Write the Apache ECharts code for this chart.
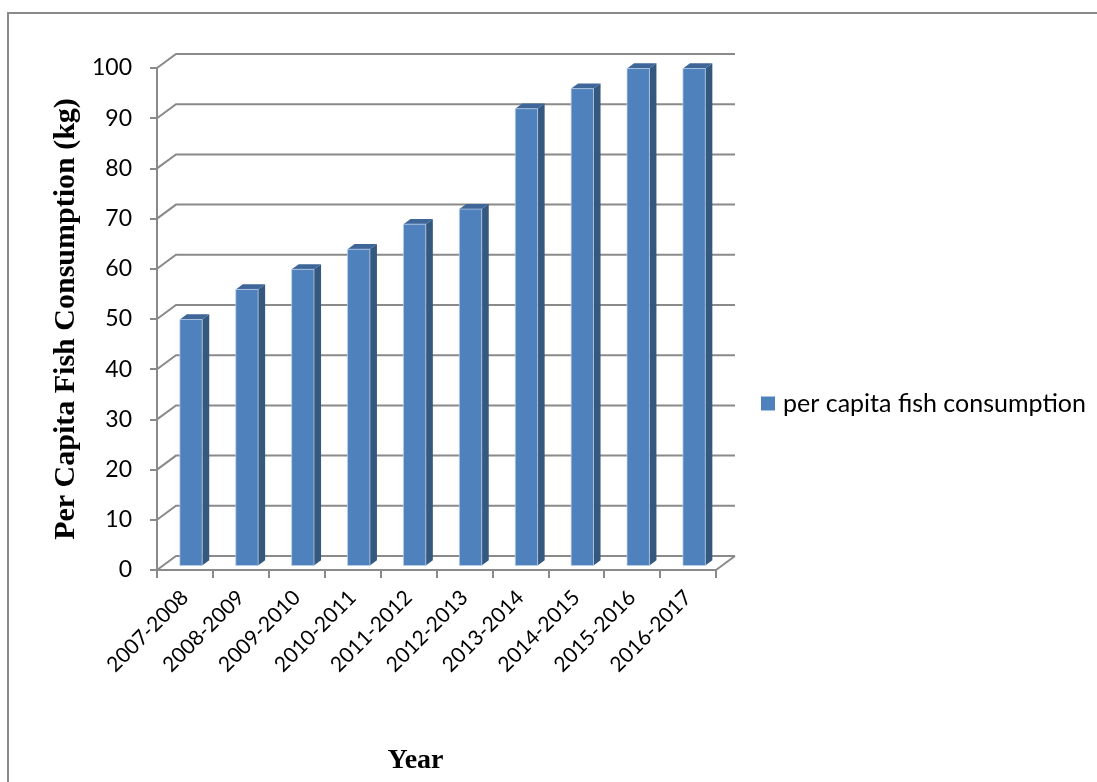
<!DOCTYPE html>
<html>
<head>
<meta charset="utf-8">
<script src="https://cdn.jsdelivr.net/npm/echarts@6/dist/echarts.min.js"></script>
<style>
  html, body { margin: 0; padding: 0; background: #fff; }
  #chart { width: 1097px; height: 782px; }
</style>
</head>
<body>
<div id="chart"></div>
<script>
// Per capita fish consumption by fiscal year
const years = ['2007-2008', '2008-2009', '2009-2010', '2010-2011', '2011-2012',
               '2012-2013', '2013-2014', '2014-2015', '2015-2016', '2016-2017'];
const consumption = [49, 55, 59, 63, 68, 71, 91, 95, 99, 99];
const yTicks = [0, 10, 20, 30, 40, 50, 60, 70, 80, 90, 100];
const seriesName = 'per capita fish consumption';

// depth of the pseudo-3D box (back wall offset from the front plane)
const DX = 19, DY = -14;
const GRID_COLOR = '#8a8a8a';
const SANS = 'Lato, "Open Sans", sans-serif';
const SERIF = '"Liberation Serif", "Times New Roman", serif';

const chart = echarts.init(document.getElementById('chart'), null, { renderer: 'canvas' });

// back wall gridlines and floor, drawn with a diagonal from the front axis
function renderWall(params, api) {
  const cs = params.coordSys;
  const v = api.value(1);
  const y = api.coord([0, v])[1];
  const x0 = cs.x, x1 = cs.x + cs.width;
  const children = [{
    type: 'polyline',
    shape: { points: [[x0, y], [x0 + DX, y + DY], [x1 + DX, y + DY]] },
    style: { stroke: GRID_COLOR, lineWidth: 2, fill: null }
  }];
  if (v === 0) {
    children.push({
      type: 'line',
      shape: { x1: x1, y1: y, x2: x1 + DX, y2: y + DY },
      style: { stroke: GRID_COLOR, lineWidth: 2 }
    });
  }
  return { type: 'group', children };
}

// 3D-style column: front face, side face and top face
function renderBar(params, api) {
  const idx = api.value(0);
  const val = api.value(1);
  const band = api.size([1, 0])[0];
  const base = api.coord([idx, 0]);
  const top = api.coord([idx, val]);
  const w = band * 0.4;
  const f = 0.32, d = 0.37;
  const x0 = base[0] - w / 2 + DX * f;
  const yb = base[1] + DY * f;
  const yt = top[1] + DY * f;
  const ddx = DX * d, ddy = DY * d;
  return {
    type: 'group',
    children: [
      {
        type: 'polygon',
        shape: { points: [[x0 + w, yb], [x0 + w, yt], [x0 + w + ddx, yt + ddy], [x0 + w + ddx, yb + ddy]] },
        style: { fill: '#35587f' }
      },
      {
        type: 'polygon',
        shape: { points: [[x0, yt], [x0 + w, yt], [x0 + w + ddx, yt + ddy], [x0 + ddx, yt + ddy]] },
        style: { fill: '#3e6698' }
      },
      {
        type: 'rect',
        shape: { x: x0, y: yt, width: w, height: yb - yt },
        style: { fill: '#4f81bd', stroke: 'rgba(190,210,235,0.7)', lineWidth: 1 }
      }
    ]
  };
}

const option = {
  backgroundColor: '#ffffff',
  animation: false,
  graphic: [{
    type: 'rect',
    shape: { x: 8, y: 13, width: 1200, height: 1000 },
    style: { fill: null, stroke: '#8a8a8a', lineWidth: 2 },
    silent: true
  }],
  grid: { left: 157, right: 381, top: 68, bottom: 212, containLabel: false },
  legend: {
    data: [{ name: seriesName, icon: 'rect' }],
    left: 761, top: 391,
    padding: 0,
    itemWidth: 14, itemHeight: 14,
    textStyle: { fontFamily: SANS, fontSize: 25, color: '#000', padding: [0, 0, 0, 3] }
  },
  xAxis: {
    type: 'category',
    data: years,
    boundaryGap: true,
    name: 'Year',
    nameLocation: 'middle',
    nameGap: 177,
    nameTextStyle: { fontFamily: SERIF, fontWeight: 'bold', fontSize: 28, color: '#000', padding: [0, 42, 0, 0] },
    axisLine: { show: true, lineStyle: { color: GRID_COLOR, width: 2 } },
    axisTick: { show: true, length: 8, alignWithLabel: false, lineStyle: { color: GRID_COLOR, width: 2 } },
    axisLabel: { rotate: 45, fontFamily: SANS, fontSize: 21, color: '#000', margin: 24, interval: 0 },
    splitLine: { show: false }
  },
  yAxis: {
    type: 'value',
    min: 0, max: 100, interval: 10,
    name: 'Per Capita Fish Consumption (kg)',
    nameLocation: 'middle',
    nameGap: 72,
    nameTextStyle: { fontFamily: SERIF, fontWeight: 'bold', fontSize: 30, color: '#000' },
    axisLine: { show: true, lineStyle: { color: GRID_COLOR, width: 2 } },
    axisTick: { show: true, length: 7, lineStyle: { color: GRID_COLOR, width: 2 } },
    axisLabel: { fontFamily: SANS, fontSize: 23, color: '#000', margin: 25 },
    splitLine: { show: false }
  },
  series: [
    {
      type: 'custom',
      name: 'wall',
      renderItem: renderWall,
      data: yTicks.map(v => [0, v]),
      z: 1,
      silent: true
    },
    {
      type: 'custom',
      name: seriesName,
      renderItem: renderBar,
      itemStyle: { color: '#4f81bd' },
      data: consumption.map((v, i) => [i, v]),
      encode: { x: 0, y: 1 },
      z: 3
    }
  ]
};

chart.setOption(option);
</script>
</body>
</html>
